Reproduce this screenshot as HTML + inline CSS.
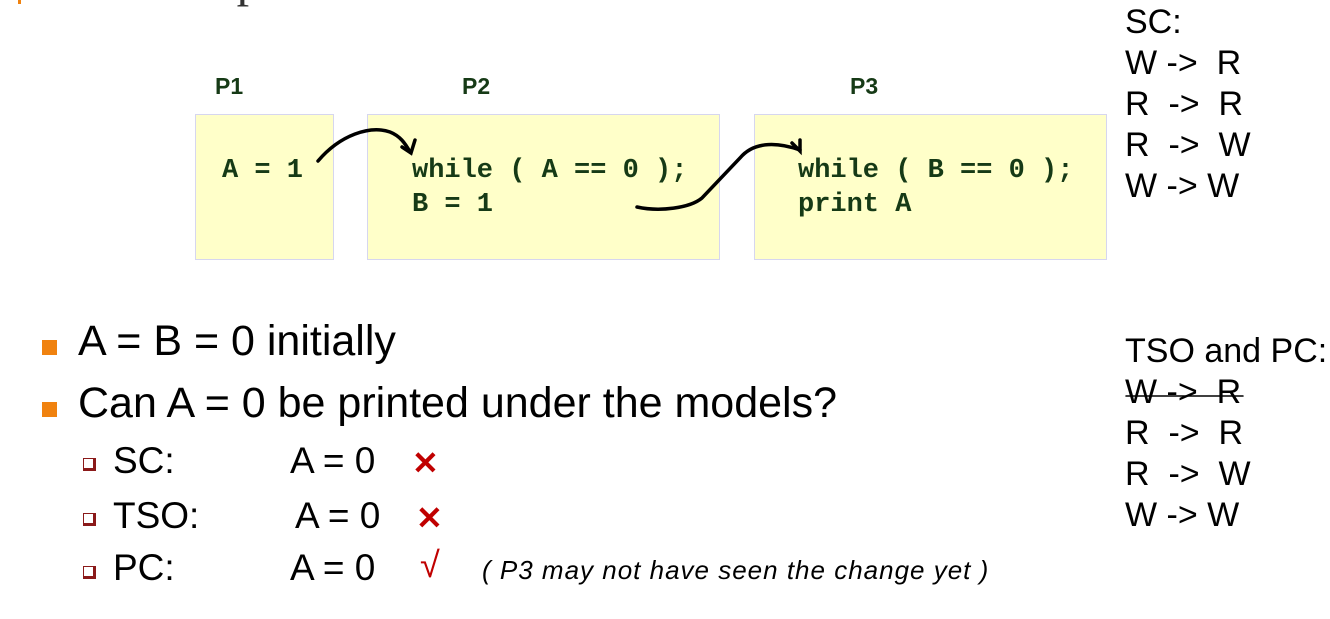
<!DOCTYPE html>
<html><head><meta charset="utf-8"><style>
body{margin:0;width:1330px;height:619px;background:#fff;position:relative;overflow:hidden;font-family:"Liberation Sans",sans-serif;}
.a{position:absolute;white-space:nowrap;}
.box{position:absolute;background:#ffffc9;border:1px solid #d6d6ef;box-sizing:border-box;}
.code{font-family:"Liberation Mono",monospace;font-weight:bold;color:#163a16;font-size:27px;line-height:34px;}
.ph{font-weight:bold;color:#163a16;font-size:23px;}
.r{font-size:34px;color:#000;line-height:41px;}
.big{font-size:43px;}
.mid{font-size:37px;}
.sq{position:absolute;width:15px;height:15px;background:#f0820f;}
.cb{position:absolute;width:9px;height:9px;border:1px solid #8b1a1a;border-right-width:3px;border-bottom-width:3px;background:#fff;}
.x{color:#c00000;font-weight:bold;font-size:32px;}
</style></head><body>
<div class="a" style="left:18px;top:-6px;width:3px;height:10px;background:#f0820f"></div>
<div class="a" style="left:120px;top:-50px;font-family:'Liberation Serif',serif;font-size:50px;color:#333">Example</div>

<div class="a ph" style="left:215px;top:73px">P1</div>
<div class="a ph" style="left:462px;top:73px">P2</div>
<div class="a ph" style="left:850px;top:73px">P3</div>

<div class="box" style="left:195px;top:114px;width:139px;height:146px"></div>
<div class="box" style="left:367px;top:114px;width:353px;height:146px"></div>
<div class="box" style="left:754px;top:114px;width:353px;height:146px"></div>

<div class="a code" style="left:222px;top:154px">A = 1</div>
<div class="a code" style="left:412px;top:154px">while ( A == 0 );<br>B = 1</div>
<div class="a code" style="left:798px;top:154px">while ( B == 0 );<br>print A</div>

<svg class="a" style="left:0;top:0" width="1330" height="619">
<g fill="none" stroke="#000" stroke-width="3.5" stroke-linecap="round">
<path d="M318,161 C340,135 370,125 390,132 C400,136 405,143 410,152"/>
<path d="M402,147 L411,153 L415,140"/>
<path d="M637,207 C660,212 690,208 702,198 L740,158 C755,140 780,143 800,150"/>
<path d="M792,143 L800,151 L800,140"/>
<path d="M1126,396 L1243,396" stroke-width="1.5"/>
</g>
</svg>

<div class="a r" style="left:1125px;top:2px">SC:<br>W -&gt;&nbsp; R<br>R &nbsp;-&gt;&nbsp; R<br>R &nbsp;-&gt;&nbsp; W<br>W -&gt; W</div>
<div class="a r" style="left:1125px;top:331px">TSO and PC:<br>W -&gt;&nbsp; R<br>R &nbsp;-&gt;&nbsp; R<br>R &nbsp;-&gt;&nbsp; W<br>W -&gt; W</div>

<div class="sq" style="left:42px;top:340px"></div>
<div class="a big" style="left:78px;top:317px">A = B = 0 initially</div>
<div class="sq" style="left:42px;top:402px"></div>
<div class="a big" style="left:78px;top:379px">Can A = 0 be printed under the models?</div>

<div class="cb" style="left:83px;top:458px"></div>
<div class="a mid" style="left:113px;top:440px">SC:</div>
<div class="a mid" style="left:290px;top:440px">A = 0</div>
<div class="a x" style="left:412px;top:444px">✕</div>

<div class="cb" style="left:83px;top:513px"></div>
<div class="a mid" style="left:113px;top:495px">TSO:</div>
<div class="a mid" style="left:295px;top:495px">A = 0</div>
<div class="a x" style="left:416px;top:499px">✕</div>

<div class="cb" style="left:83px;top:566px"></div>
<div class="a mid" style="left:113px;top:547px">PC:</div>
<div class="a mid" style="left:290px;top:547px">A = 0</div>
<div class="a" style="left:420px;top:544px;font-size:36px;color:#c00000">√</div>
<div class="a" style="left:482px;top:555px;font-size:26px;font-style:italic;color:#000;letter-spacing:1px">( P3 may not have seen the change yet )</div>
</body></html>
